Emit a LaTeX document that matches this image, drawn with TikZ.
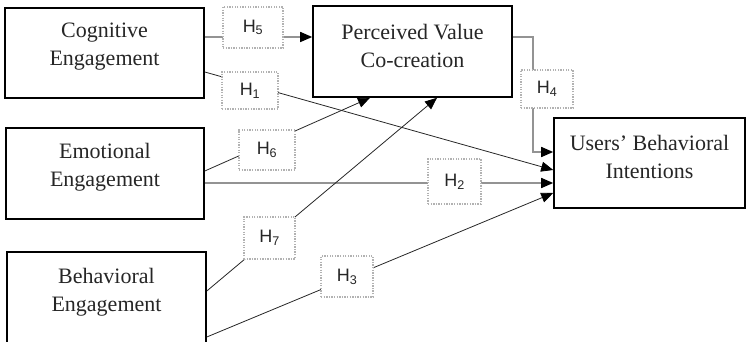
\documentclass[tikz,border=0pt]{standalone}
\usepackage{fontspec}
\setmainfont{Liberation Serif}
\newfontfamily\hypfont{Liberation Sans}
\usetikzlibrary{arrows.meta}
\tikzset{
  construct/.style={draw=black, line width=1.6pt, inner sep=0pt},
  constructtext/.style={align=center, text=black!85, font=\fontsize{22}{28}\selectfont},
  hyp/.style={draw=gray!60, line width=1.3pt, dash pattern=on 1.3pt off 1.3pt, fill=white,
    text=black!85, inner sep=0pt, font=\hypfont\fontsize{18}{20}\selectfont},
  tip/.style={-{Triangle[length=12pt,width=10pt,color=black]}},
  link/.style={line width=0.8pt, draw=black!85},
  greylink/.style={line width=1.5pt, draw=gray!85}
}
\begin{document}
\begin{tikzpicture}[x=1pt,y=1pt]
\useasboundingbox (0,0) rectangle (746,342);

\node[construct, minimum width=199pt, minimum height=90pt] (cog) at (104.5,289) {};
\node[constructtext] (cogtext) at ([yshift=6pt]cog) {Cognitive\\Engagement};
\node[construct, minimum width=198pt, minimum height=91pt] (emo) at (105,168.5) {};
\node[constructtext] (emotext) at ([yshift=6.5pt]emo) {Emotional\\Engagement};
\node[construct, minimum width=199pt, minimum height=97pt] (beh) at (106.5,41.5) {};
\node[constructtext] (behtext) at ([yshift=8.5pt]beh) {Behavioral\\Engagement};
\node[construct, minimum width=199pt, minimum height=91pt] (pvc) at (412.5,290.5) {};
\node[constructtext] (pvctext) at ([yshift=5.5pt]pvc) {Perceived Value\\Co-creation};
\node[construct, minimum width=191pt, minimum height=90pt] (ubi) at (649.5,179) {};
\node[constructtext] (ubitext) at ([yshift=6pt]ubi) {Users’ Behavioral\\Intentions};

\coordinate (p5) at ([yshift=16pt]cog.east);
\coordinate (p2) at ([yshift=-9.5pt]emo.east);
\coordinate (p4) at ([yshift=14.5pt]pvc.east);
\coordinate (q4) at ([yshift=11pt]ubi.west);

\draw[greylink, tip] (p5) -- (p5 -| pvc.west);
\draw[greylink, tip] (p2) -- (p2 -| ubi.west);
\draw[greylink, tip] (p4) -| ([xshift=-20pt]q4) -- (q4);
\draw[link, tip] ([yshift=-19pt]cog.east) -- ([yshift=-7pt]ubi.west);
\draw[link, tip] ([yshift=2.5pt]emo.east) -- ([xshift=-42.5pt]pvc.south);
\draw[link, tip] ([yshift=9.5pt]beh.east) -- ([xshift=24.5pt]pvc.south);
\draw[link, tip] ([yshift=-36.5pt]beh.east) -- ([yshift=-30pt]ubi.west);

\node[hyp, minimum width=60pt, minimum height=41pt] (h5) at (253,314.5) {H\textsubscript{5}};
\node[hyp, minimum width=56pt, minimum height=37pt] (h1) at (250,251.5) {H\textsubscript{1}};
\node[hyp, minimum width=52pt, minimum height=38pt] (h4) at (547,253) {H\textsubscript{4}};
\node[hyp, minimum width=56pt, minimum height=40pt] (h6) at (267,192) {H\textsubscript{6}};
\node[hyp, minimum width=53pt, minimum height=45pt] (h2) at (454.5,160.5) {H\textsubscript{2}};
\node[hyp, minimum width=51pt, minimum height=42pt] (h7) at (269.5,104) {H\textsubscript{7}};
\node[hyp, minimum width=52pt, minimum height=41pt] (h3) at (347,65.5) {H\textsubscript{3}};
\end{tikzpicture}
\end{document}
